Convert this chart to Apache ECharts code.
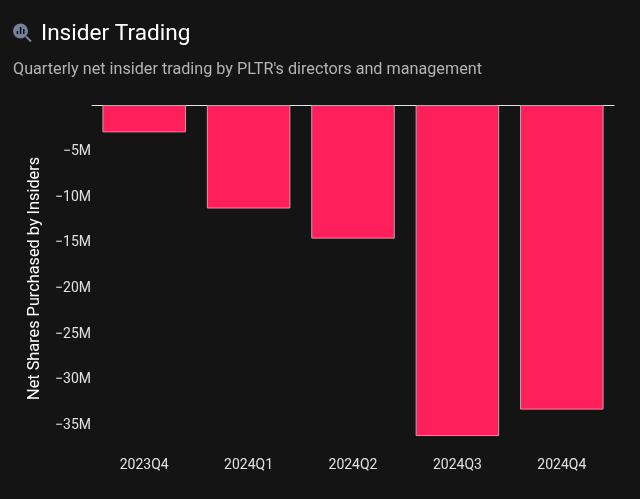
<!DOCTYPE html>
<html><head><meta charset="utf-8">
<style>html,body{margin:0;padding:0;background:#141414}#c{width:640px;height:499px}</style>
<script src="https://cdn.jsdelivr.net/npm/echarts@6/dist/echarts.min.js"></script></head>
<body><div id="c"></div>
<script>
const categories = ['2023Q4','2024Q1','2024Q2','2024Q3','2024Q4'];
const netShares = [-3,-11.35,-14.65,-36.3,-33.4];
const titleText = 'Insider Trading';
const subtitleText = "Quarterly net insider trading by PLTR's directors and management";
const yName = 'Net Shares Purchased by Insiders';
const chart = echarts.init(document.getElementById('c'), null, {renderer:'canvas'});
chart.setOption({
  backgroundColor:'#141414',
  animation:false,
  textStyle:{fontFamily:'Roboto'},
  title:[
    {text:titleText,left:41,top:23,padding:0,textStyle:{color:'#ffffff',fontSize:22.6,fontWeight:400,fontFamily:'Roboto'}},
    {text:subtitleText,left:13,top:62,padding:0,textStyle:{color:'#b4b4b4',fontSize:16.2,fontWeight:400,fontFamily:'Roboto'}}
  ],
  grid:{left:92,right:26,top:105,height:364.8},
  xAxis:[
    {type:'category',data:categories,position:'bottom',
      axisLine:{show:false},axisTick:{show:false},
      axisLabel:{color:'#e0e0e0',fontSize:14,margin:-11,fontFamily:'Roboto'}},
    {type:'category',data:categories,position:'top',
      axisLine:{show:true,lineStyle:{color:'#e6e6e6',width:1}},axisTick:{show:false},axisLabel:{show:false}}
  ],
  yAxis:{type:'value',min:-40,max:0,interval:5,
    name:yName,nameLocation:'middle',nameGap:49,nameRotate:90,
    nameTextStyle:{color:'#ffffff',fontSize:16.3,fontFamily:'Roboto',padding:[0,0,0,18]},
    axisLine:{show:false},axisTick:{show:false},splitLine:{show:false},
    axisLabel:{color:'#e0e0e0',fontSize:14,margin:1,verticalAlign:'top',lineHeight:2,showMinLabel:false,showMaxLabel:false,fontFamily:'Roboto',
      formatter:v=>v===0?'':'\u2212'+Math.abs(v)+'M'}},
  series:[{type:'bar',data:netShares,xAxisIndex:0,barWidth:'80%',
    itemStyle:{color:'#ff1f5a',borderColor:'#c9a0ac',borderWidth:1}}],
  graphic:[
    {type:'circle',shape:{cx:20.5,cy:31,r:7.5},style:{fill:'#74829c'}},
    {type:'line',shape:{x1:26,y1:36.5,x2:31,y2:41.5},style:{stroke:'#74829c',lineWidth:2}},
    {type:'rect',shape:{x:16.6,y:31,width:1.6,height:3},style:{fill:'#141414'}},
    {type:'rect',shape:{x:19.8,y:27,width:1.6,height:7},style:{fill:'#141414'}},
    {type:'rect',shape:{x:23,y:29,width:1.6,height:5},style:{fill:'#141414'}}
  ]
});
</script></body></html>
